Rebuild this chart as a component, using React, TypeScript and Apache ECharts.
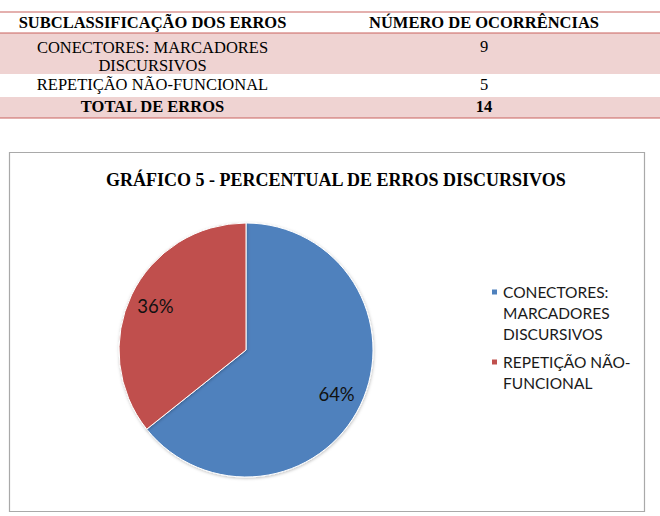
import React, { useEffect, useRef } from "react";
import * as echarts from "echarts";

// ---- data ----
const categories = ["CONECTORES: MARCADORES DISCURSIVOS", "REPETIÇÃO NÃO-FUNCIONAL"];
const occurrences = [9, 5];
const tableHeaders = ["SUBCLASSIFICAÇÃO DOS ERROS", "NÚMERO DE OCORRÊNCIAS"];
const tableRowLabels = ["CONECTORES: MARCADORES\nDISCURSIVOS", "REPETIÇÃO NÃO-FUNCIONAL"];
const legendLabels = ["CONECTORES:\nMARCADORES\nDISCURSIVOS", "REPETIÇÃO NÃO-\nFUNCIONAL"];
const totalLabel = "TOTAL DE ERROS";
const chartTitle = "GRÁFICO 5 - PERCENTUAL DE ERROS DISCURSIVOS";
const sliceColors = ["#4f81bd", "#c0504d"];

const W = 660;
const H = 516;

export default function App() {
  const ref = useRef<HTMLDivElement>(null);

  useEffect(() => {
    if (!ref.current) return;
    const chart = echarts.init(ref.current, null, { renderer: "svg" });

    const serif = '"Liberation Serif", "Times New Roman", serif';
    const total = occurrences.reduce((a, b) => a + b, 0);

    // table layout
    const col1X = 152.5;
    const col2X = 484;
    const headerY = 22.5;
    const rowYs = [56.25, 84.5];
    const firstValueY = 46.5;
    const totalY = 106.5;
    const bands = [
      { y: 33, h: 41 },
      { y: 97, h: 21 },
    ];
    const lines = [12, 33, 118];
    const pink = "#efd3d2";
    const lineColor = "#c9625f";

    const txt = (text: string, x: number, y: number, bold: boolean) => ({
      type: "text",
      silent: true,
      z: 10,
      x,
      y,
      scaleX: 0.943,
      style: {
        text,
        x: 0,
        y: 0,
        fill: "#000",
        font: `${bold ? "bold " : ""}17.5px ${serif}`,
        lineHeight: 18,
        align: "center",
        verticalAlign: "middle",
        textAlign: "center",
        textVerticalAlign: "middle",
      },
    });

    const graphics: any[] = [];
    bands.forEach((b) =>
      graphics.push({
        type: "rect",
        silent: true,
        z: 1,
        shape: { x: 0, y: b.y, width: W, height: b.h },
        style: { fill: pink },
      })
    );
    lines.forEach((y) =>
      graphics.push({
        type: "line",
        silent: true,
        z: 2,
        shape: { x1: 0, y1: y, x2: W, y2: y },
        style: { stroke: lineColor, lineWidth: 1.2 },
      })
    );
    graphics.push(txt(tableHeaders[0], col1X, headerY, true));
    graphics.push(txt(tableHeaders[1], col2X, headerY, true));
    tableRowLabels.forEach((label, i) => {
      graphics.push(txt(label, col1X, rowYs[i], false));
      graphics.push(txt(String(occurrences[i]), col2X, i === 0 ? firstValueY : rowYs[i], false));
    });
    graphics.push(txt(totalLabel, col1X, totalY, true));
    graphics.push(txt(String(total), col2X, totalY, true));

    // chart frame
    graphics.push({
      type: "rect",
      silent: true,
      z: 0,
      shape: { x: 9.5, y: 152.5, width: 635, height: 359 },
      style: { fill: "#fff", stroke: "#a9a9a9", lineWidth: 1.2 },
    });

    const legendLH = 21;
    const pieData = categories.map((name, i) => ({
      name,
      value: occurrences[i],
      itemStyle: { color: sliceColors[i] },
    }));

    chart.setOption({
      animation: false,
      backgroundColor: "#fff",
      graphic: { elements: graphics },
      title: {
        text: chartTitle,
        left: 106,
        top: 170.5,
        padding: 0,
        textStyle: {
          fontFamily: serif,
          fontWeight: "bold",
          fontSize: 18,
          color: "#000",
        },
      },
      legend: {
        orient: "vertical",
        left: 490,
        top: 239.5,
        padding: 0,
        itemWidth: 7,
        itemHeight: 7,
        itemGap: -14,
        icon: "rect",
        selectedMode: false,
        textStyle: {
          fontFamily: "Lato",
          fontSize: 15.5,
          lineHeight: legendLH,
          color: "#1a1a1a",
        },
        data: categories,
        formatter: (name: string) => {
          const label = legendLabels[categories.indexOf(name)];
          const n = label.split("\n").length;
          return "\n".repeat(n - 1) + label;
        },
      },
      series: [
        {
          type: "pie",
          center: [246, 350],
          radius: [0, 127],
          startAngle: 90,
          clockwise: true,
          silent: true,
          label: { show: false },
          labelLine: { show: false },
          itemStyle: {
            borderColor: "#fff",
            borderWidth: 1,
            shadowBlur: 3,
            shadowColor: "rgba(0,0,0,0.25)",
            shadowOffsetX: 0.5,
            shadowOffsetY: 1,
          },
          emphasis: { disabled: true },
          data: pieData,
        },
        {
          type: "pie",
          center: [246, 350],
          radius: [68, 127],
          startAngle: 90,
          clockwise: true,
          silent: true,
          percentPrecision: 0,
          itemStyle: { color: "rgba(0,0,0,0)", borderWidth: 0 },
          label: {
            show: true,
            position: "inside",
            formatter: "{d}%",
            fontFamily: "Lato",
            fontSize: 18.5,
            color: "#111",
          },
          labelLine: { show: false },
          emphasis: { disabled: true },
          data: categories.map((name, i) => ({ name, value: occurrences[i] })),
        },
      ],
    });

    return () => chart.dispose();
  }, []);

  return (
    <div
      ref={ref}
      style={{ position: "absolute", left: 0, top: 0, width: W, height: H, background: "#fff" }}
    />
  );
}
